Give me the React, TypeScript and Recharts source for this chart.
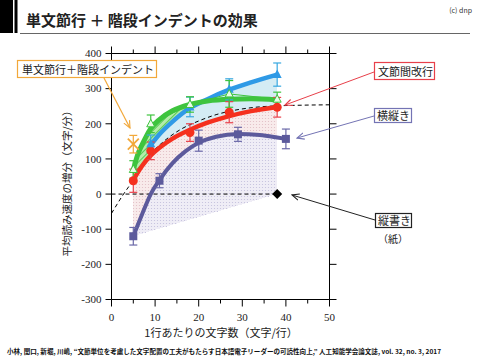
import React from 'react';
import { ComposedChart, XAxis, YAxis, Line, Area, Scatter, ErrorBar } from 'recharts';

const xTicks = [0, 5, 10, 15, 20, 25, 30, 35, 40, 45, 50];
const yTicks = [-300, -200, -100, 0, 100, 200, 300, 400];

// measured points (x, mean, error)
const blueX = [9, 18, 27, 38];
const blueY = [143, 248, 298, 340];
const blueE = [25, 28, 30, 33];
const greenX = [5, 9, 18, 27, 38];
const greenY = [70, 200, 255, 285, 270];
const greenE = [25, 25, 22, 38, 20];
const redX = [5, 9, 18, 27, 38];
const redY = [38, 123, 175, 233, 247];
const redE = [33, 25, 25, 30, 28];
const purpleX = [5, 11, 20, 29, 40];
const purpleY = [-120, 38, 152, 170, 157];
const purpleE = [25, 20, 30, 20, 28];
const orangeX = [5];
const orangeY = [142];
const orangeE = [25];
const paperX = [38];
const paperY = [0];

// fitted curves
const blueFitX = [8.8, 11, 14, 18, 22, 27, 32, 38];
const blueFitY = [136, 170, 206, 245, 270, 297, 318, 340];
const greenFitX = [5, 6, 7, 8, 9, 11, 14, 18, 22, 27, 32, 38];
const greenFitY = [68, 112, 140, 165, 186, 212, 237, 255, 265, 270, 271, 268];
const redFitX = [5, 7, 9, 11, 14, 18, 22, 27, 32, 38];
const redFitY = [40, 80, 110, 132, 158, 183, 203, 222, 236, 248];
const purpleFitX = [5, 7, 9, 11, 14, 17, 20, 24, 29, 34, 38, 40];
const purpleFitY = [-120, -58, 0, 40, 88, 122, 146, 163, 171, 168, 161, 157];
const modelX = [0, 2.5, 5, 8, 12, 16, 20, 24, 28, 33, 38, 44, 50];
const modelY = [-55, -5, 40, 100, 150, 185, 208, 226, 238, 247, 251, 253, 254];
const baseLineX = [5, 38];
const baseLineY = [-120, 0];
const zeroX = [0, 38];
const zeroY = [0, 0];

const pts = (xs: number[], ys: number[], es?: number[]) =>
  xs.map((x, i) => ({ x, y: ys[i], e: es ? es[i] : 0 }));

const BLUE = '#2f9ae6';
const GREEN = '#3ec43e';
const RED = '#f5301e';
const PURPLE = '#5c5a9c';
const ORANGE = '#f2a83a';

const serif = '"Liberation Serif", "DejaVu Serif", serif';
const jp = '"Noto Sans CJK JP", "Noto Sans", sans-serif';

const LeftTick = (p: any) => (
  <g>
    <line x1={p.x} x2={p.x - 6} y1={p.y} y2={p.y} stroke="#000" />
    <text x={p.x - 10} y={p.y} dy="0.35em" textAnchor="end" fontFamily={serif} fontSize={11} fill="#222">
      {p.payload.value}
    </text>
  </g>
);
const RightTick = (p: any) => (
  <line x1={p.x} x2={p.x + 7} y1={p.y} y2={p.y} stroke="#000" />
);
const BottomTick = (p: any) => {
  const major = p.payload.value % 10 === 0;
  return (
    <g>
      <line x1={p.x} x2={p.x} y1={p.y} y2={p.y + (major ? 7 : 4)} stroke="#000" />
      {major && (
        <text x={p.x} y={p.y + 21} textAnchor="middle" fontFamily={serif} fontSize={11} fill="#222">
          {p.payload.value}
        </text>
      )}
    </g>
  );
};
const TopTick = (p: any) => {
  const major = p.payload.value % 10 === 0;
  return <line x1={p.x} x2={p.x} y1={p.y} y2={p.y - (major ? 7 : 4)} stroke="#000" />;
};

const TriFilled = (p: any) => (
  <polygon points={`${p.cx},${p.cy - 5} ${p.cx - 4.5},${p.cy + 3.5} ${p.cx + 4.5},${p.cy + 3.5}`} fill={BLUE} />
);
const TriOpen = (p: any) => (
  <polygon points={`${p.cx},${p.cy - 4.5} ${p.cx - 4},${p.cy + 3} ${p.cx + 4},${p.cy + 3}`} fill="#eafbe8" stroke={GREEN} strokeWidth={1} />
);
const Circ = (p: any) => <circle cx={p.cx} cy={p.cy} r={4.5} fill={RED} />;
const Sq = (p: any) => <rect x={p.cx - 4} y={p.cy - 4} width={8} height={8} fill={PURPLE} />;
const Dia = (p: any) => (
  <polygon points={`${p.cx},${p.cy - 5} ${p.cx + 5},${p.cy} ${p.cx},${p.cy + 5} ${p.cx - 5},${p.cy}`} fill="#000" />
);
const XMark = (p: any) => (
  <g stroke={ORANGE} strokeWidth={1.8}>
    <line x1={p.cx - 5.5} y1={p.cy - 5.5} x2={p.cx + 5.5} y2={p.cy + 5.5} />
    <line x1={p.cx - 5.5} y1={p.cy + 5.5} x2={p.cx + 5.5} y2={p.cy - 5.5} />
  </g>
);

const areaProps = {
  dataKey: 'y',
  type: 'monotone' as const,
  stroke: 'none',
  fillOpacity: 1,
  baseValue: purpleY[0],
  isAnimationActive: false,
  dot: false,
  activeDot: false,
  shapeRendering: 'crispEdges',
};

export default function App() {
  return (
    <div style={{ position: 'fixed', left: 0, top: 0, width: 480, height: 360, background: '#fff' }}>
      <svg width={0} height={0} style={{ position: 'absolute' }}>
        <defs>
          <pattern id="greenHatch" width={4} height={4} patternUnits="userSpaceOnUse" patternTransform="rotate(45)">
            <rect width={4} height={4} fill="#b4ecaa" />
            <line x1={0} y1={0} x2={0} y2={4} stroke="#3cc03c" strokeWidth={1.6} />
          </pattern>
          <pattern id="pinkDots" width={3} height={3} patternUnits="userSpaceOnUse">
            <rect width={3} height={3} fill="#f8ebeb" />
            <circle cx={1.5} cy={1.5} r={0.6} fill="#e0bcc4" />
          </pattern>
          <pattern id="lavDots" width={3} height={3} patternUnits="userSpaceOnUse">
            <rect width={3} height={3} fill="#efedf6" />
            <circle cx={1.5} cy={1.5} r={0.6} fill="#c2bedc" />
          </pattern>
          <marker id="arrO" viewBox="0 0 10 10" refX={9} refY={5} markerWidth={8} markerHeight={8} markerUnits="userSpaceOnUse" orient="auto">
            <path d="M0,1 L9,5 L0,9" fill="none" stroke={ORANGE} strokeWidth={1.4} />
          </marker>
          <marker id="arrR" viewBox="0 0 10 10" refX={9} refY={5} markerWidth={8} markerHeight={8} markerUnits="userSpaceOnUse" orient="auto">
            <path d="M0,1 L9,5 L0,9" fill="none" stroke="#e8404a" strokeWidth={1.4} />
          </marker>
          <marker id="arrP" viewBox="0 0 10 10" refX={9} refY={5} markerWidth={8} markerHeight={8} markerUnits="userSpaceOnUse" orient="auto">
            <path d="M0,1 L9,5 L0,9" fill="none" stroke="#7474b4" strokeWidth={1.4} />
          </marker>
          <marker id="arrK" viewBox="0 0 10 10" refX={9} refY={5} markerWidth={8} markerHeight={8} markerUnits="userSpaceOnUse" orient="auto">
            <path d="M0,1 L9,5 L0,9" fill="none" stroke="#222" strokeWidth={1.4} />
          </marker>
        </defs>
      </svg>
      <ComposedChart width={480} height={360} margin={{ top: 52.5, right: 149.5, bottom: 59.5, left: 110.5 }}>
        <XAxis dataKey="x" type="number" domain={[0, 50]} ticks={xTicks} interval={0} height={1}
          tickSize={0} tickMargin={0} tickLine={false} tick={BottomTick} axisLine={{ stroke: '#000' }} allowDataOverflow />
        <XAxis xAxisId="top" orientation="top" dataKey="x" type="number" domain={[0, 50]} ticks={xTicks} interval={0} height={1}
          tickSize={0} tickMargin={0} tickLine={false} tick={TopTick} axisLine={{ stroke: '#000' }} allowDataOverflow />
        <YAxis type="number" domain={[-300, 400]} ticks={yTicks} interval={0} width={1}
          tickSize={0} tickMargin={0} tickLine={false} tick={LeftTick} axisLine={{ stroke: '#000' }} allowDataOverflow />
        <YAxis yAxisId="right" orientation="right" type="number" domain={[-300, 400]} ticks={yTicks} interval={0} width={1}
          tickSize={0} tickMargin={0} tickLine={false} tick={RightTick} axisLine={{ stroke: '#000' }} allowDataOverflow />

        <Area {...areaProps} data={pts(greenFitX, greenFitY)} fill="url(#greenHatch)" />
        <Area {...areaProps} data={pts(blueFitX, blueFitY)} fill="#d4ecf4" />
        <Area {...areaProps} data={pts(redFitX, redFitY)} fill="url(#pinkDots)" />
        <Area {...areaProps} data={pts(purpleFitX.slice(0, 11), purpleFitY.slice(0, 11))} fill="url(#lavDots)" />
        <Area {...areaProps} type="linear" data={pts(baseLineX, baseLineY)} fill="#ffffff" />

        <Line data={pts(zeroX, zeroY)} dataKey="y" type="linear" stroke="#000" strokeWidth={1} strokeDasharray="4 3" dot={false} activeDot={false} isAnimationActive={false} />
        <Line data={pts(modelX, modelY)} dataKey="y" type="monotone" stroke="#000" strokeWidth={1} strokeDasharray="4 3" dot={false} activeDot={false} isAnimationActive={false} />
        <Line data={pts(purpleFitX, purpleFitY)} dataKey="y" type="monotone" stroke={PURPLE} strokeWidth={4} strokeLinecap="round" dot={false} activeDot={false} isAnimationActive={false} />
        <Line data={pts(redFitX, redFitY)} dataKey="y" type="monotone" stroke={RED} strokeWidth={4.5} strokeLinecap="round" dot={false} activeDot={false} isAnimationActive={false} />
        <Line data={pts(blueFitX, blueFitY)} dataKey="y" type="monotone" stroke={BLUE} strokeWidth={4.5} strokeLinecap="round" dot={false} activeDot={false} isAnimationActive={false} />
        <Line data={pts(greenFitX, greenFitY)} dataKey="y" type="monotone" stroke={GREEN} strokeWidth={5} strokeLinecap="round" dot={false} activeDot={false} isAnimationActive={false} />
        <Line data={pts(greenX, greenY)} dataKey="y" type="linear" stroke={GREEN} strokeWidth={1} dot={false} activeDot={false} isAnimationActive={false} />

        <Scatter data={pts(purpleX, purpleY, purpleE)} dataKey="y" shape={Sq} isAnimationActive={false}>
          <ErrorBar dataKey="e" direction="y" width={4} stroke="#6a68a8" strokeWidth={1.2} />
        </Scatter>
        <Scatter data={pts(redX, redY, redE)} dataKey="y" shape={Circ} isAnimationActive={false}>
          <ErrorBar dataKey="e" direction="y" width={4} stroke="#e8404a" strokeWidth={1.2} />
        </Scatter>
        <Scatter data={pts(blueX, blueY, blueE)} dataKey="y" shape={TriFilled} isAnimationActive={false}>
          <ErrorBar dataKey="e" direction="y" width={4} stroke="#38a8e0" strokeWidth={1.2} />
        </Scatter>
        <Scatter data={pts(greenX, greenY, greenE)} dataKey="y" shape={TriOpen} isAnimationActive={false}>
          <ErrorBar dataKey="e" direction="y" width={4} stroke={GREEN} strokeWidth={1.2} />
        </Scatter>
        <Scatter data={pts(orangeX, orangeY, orangeE)} dataKey="y" shape={XMark} isAnimationActive={false}>
          <ErrorBar dataKey="e" direction="y" width={4} stroke={ORANGE} strokeWidth={1.2} />
        </Scatter>
        <Scatter data={pts(paperX, paperY)} dataKey="y" shape={Dia} isAnimationActive={false} />
      </ComposedChart>

      <svg width={480} height={360} style={{ position: 'absolute', left: 0, top: 0, pointerEvents: 'none' }}>
        <rect x={0} y={0} width={13} height={33} fill="#000" />
        <rect x={14.5} y={0} width={3} height={33} fill="#000" />
        <line x1={20} x2={470} y1={33.5} y2={33.5} stroke="#666" strokeWidth={1} />
        <text x={26} y={26} fontFamily={jp} fontWeight="bold" fontSize={15} fill="#222">単文節行 ＋ 階段インデントの効果</text>
        <text x={472} y={13} textAnchor="end" fontFamily={jp} fontSize={7} fill="#333">(c) dnp</text>

        <text transform="translate(66,181) rotate(-90)" textAnchor="middle" dominantBaseline="central" fontFamily={jp} fontSize={10.5} fill="#222">平均読み速度の増分（文字/分）</text>
        <text x={221} y={337} textAnchor="middle" fontFamily={jp} fontSize={11} fill="#222">1行あたりの文字数（文字/行）</text>

        <line x1={104} y1={78} x2={130} y2={128} stroke={ORANGE} strokeWidth={1.2} markerEnd="url(#arrO)" />
        <rect x={17.5} y={60.5} width={139} height={17} fill="#fff" stroke={ORANGE} strokeWidth={1.2} />
        <text x={22} y={73.5} fontFamily={jp} fontSize={11} fill="#222">単文節行＋階段インデント</text>

        <line x1={374} y1={72} x2={285} y2={105} stroke="#e8404a" strokeWidth={1} markerEnd="url(#arrR)" />
        <rect x={374.5} y={62.5} width={60} height={17} fill="#fff" stroke="#e8404a" strokeWidth={1.2} />
        <text x={378} y={75.5} fontFamily={jp} fontSize={11} fill="#222">文節間改行</text>

        <line x1={374} y1={116} x2={297} y2={138} stroke="#7474b4" strokeWidth={1} markerEnd="url(#arrP)" />
        <rect x={374.5} y={108.5} width={37} height={14} fill="#fff" stroke="#7474b4" strokeWidth={1.2} />
        <text x={377} y={120} fontFamily={jp} fontSize={11} fill="#222">横縦き</text>

        <line x1={375} y1={220} x2={292} y2={195} stroke="#222" strokeWidth={1} markerEnd="url(#arrK)" />
        <rect x={375.5} y={213.5} width={36} height={14} fill="#fff" stroke="#222" strokeWidth={1.2} />
        <text x={378} y={225} fontFamily={jp} fontSize={11} fill="#222">縦書き</text>
        <text x={393} y={243} textAnchor="middle" fontFamily={jp} fontSize={10} fill="#222">（紙）</text>

        <text x={7} y={354} fontFamily={jp} fontWeight="bold" fontSize={6.5} fill="#111" textLength={434} lengthAdjust="spacingAndGlyphs">
          小林, 関口, 新堀, 川嶋, “文節単位を考慮した文字配置の工夫がもたらす日本語電子リーダーの可読性向上,” 人工知能学会論文誌, vol. 32, no. 3, 2017
        </text>
      </svg>
    </div>
  );
}
